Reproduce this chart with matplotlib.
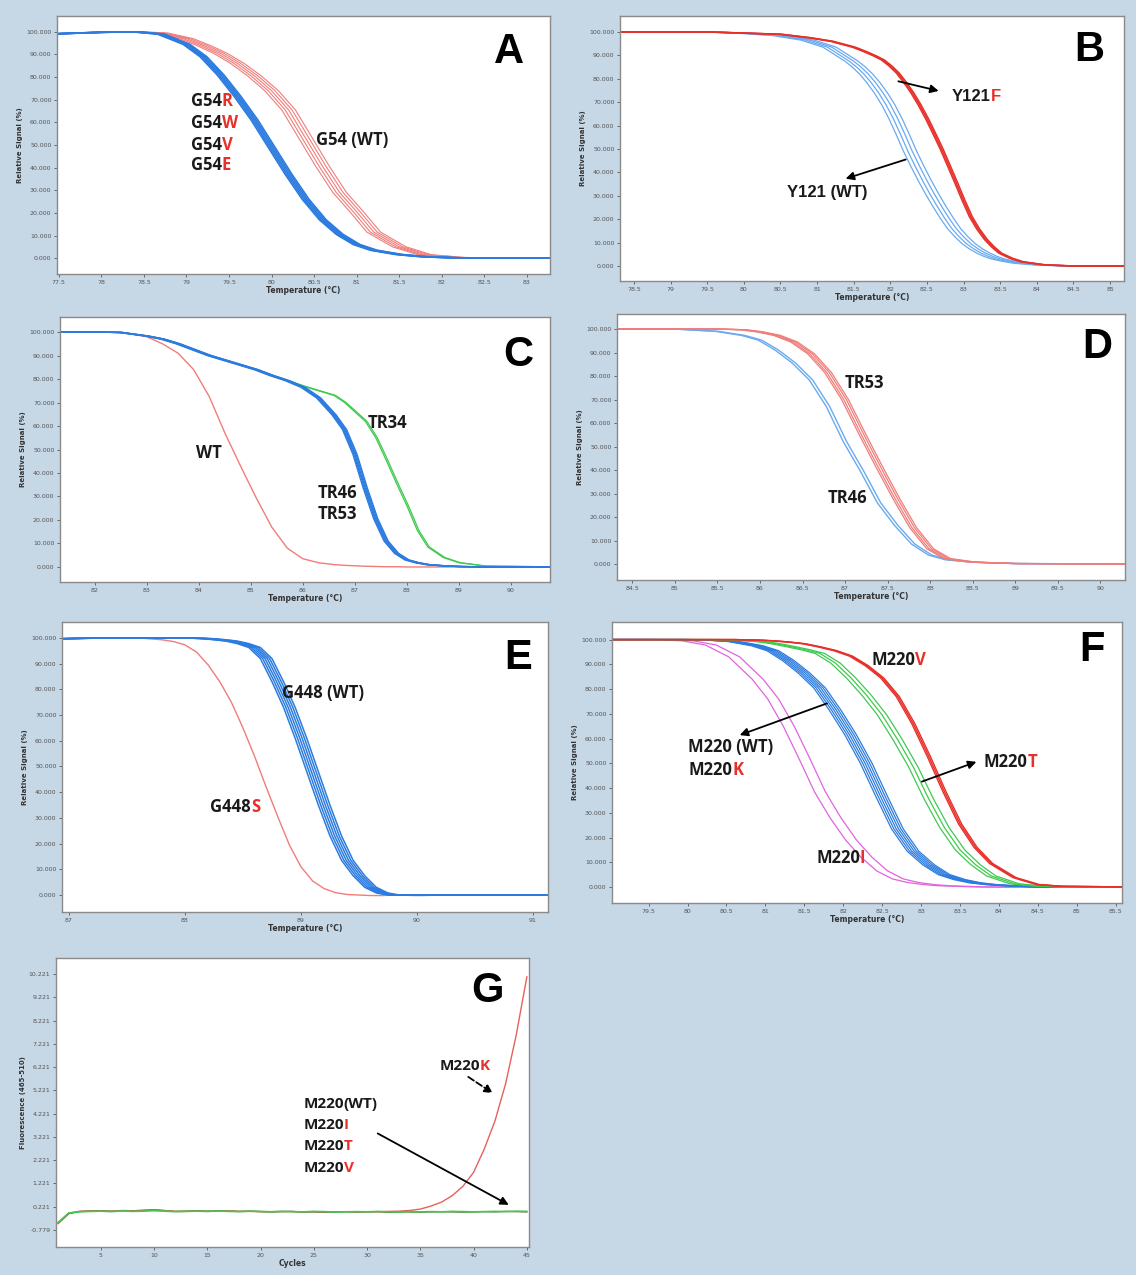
import matplotlib.pyplot as plt
import numpy as np

# ---- panel A : G54 ----
a_temp = [77.2, 78.0, 78.4, 78.7, 79.0, 79.2, 79.4, 79.6, 79.8, 80.0, 80.2, 80.4, 80.6, 80.8,
          81.0, 81.2, 81.5, 81.8, 82.2, 82.6, 83.6]
a_mut = [98.8, 99.8, 100, 99, 94.5, 89, 81, 71.5, 61, 49, 37, 26, 17, 10.5, 6, 3.5, 1.6, 0.6, 0.1, 0, 0]
a_wt = [98.8, 99.8, 100, 99.5, 97, 94, 90.5, 86, 80.5, 74, 65.5, 53, 40.5, 29, 20.5, 11.5, 5, 1.5, 0.3, 0, 0]

# ---- panel B : Y121 ----
b_temp = [78.0, 79.5, 80.0, 80.5, 80.9, 81.2, 81.5, 81.6, 81.7, 81.8, 81.9, 82.0, 82.1, 82.2, 82.3,
          82.4, 82.5, 82.6, 82.7, 82.8, 82.9, 83.0, 83.1, 83.2, 83.3, 83.4, 83.5, 83.65, 83.8, 84.1,
          84.5, 85.5]
b_wt = [100, 100, 99.5, 98.5, 96.5, 93.5, 87.5, 85, 82, 78.3, 74, 69, 63, 56.2, 49, 42.6, 36.5,
        30.8, 25.5, 20.5, 16, 12.5, 9.5, 7.3, 5.5, 4.1, 3, 2, 1.2, 0.4, 0, 0]
b_mut = [100, 100, 99.5, 99, 97.5, 96, 93.5, 92.3, 91, 89.6, 88, 85.5, 82.5, 78.5, 74, 68.8, 63,
         56.6, 50, 42.8, 35.5, 28, 21, 15.8, 11.5, 8.2, 5.5, 3.3, 1.8, 0.5, 0, 0]

# ---- panel C : TR34 / TR46 / TR53 ----
c_temp = [81.0, 82.0, 82.5, 83.0, 83.3, 83.6, 83.9, 84.2, 84.5, 84.8, 85.1, 85.4, 85.7, 86.0, 86.3,
          86.6, 86.8, 87.0, 87.2, 87.4, 87.6, 87.8, 88.0, 88.2, 88.4, 88.7, 89.0, 89.5, 91.0]
c_wt = [100, 100, 100, 98, 95, 91, 84, 72.5, 57, 43, 29.5, 17, 8, 3.5, 1.8, 1, 0.7, 0.5, 0.3, 0.2,
        0.1, 0.1, 0, 0, 0, 0, 0, 0, 0]
c_tr46 = [100, 100, 99.8, 98.3, 97, 95, 92.5, 90, 88, 86, 84, 81.5, 79.3, 76.5, 72, 64.7, 58.5, 48,
          33.5, 20.5, 11, 5.8, 3, 1.8, 1, 0.5, 0.2, 0, 0]
c_tr34 = [100, 100, 99.8, 98.3, 97, 95, 92.5, 90, 88, 86, 84, 81.5, 79.3, 77, 75, 73, 70, 66, 62,
          55, 45.5, 35.5, 26, 15.5, 8.5, 4, 1.8, 0.4, 0]

# ---- panel D : TR46 / TR53 ----
d_temp = [84.0, 85.0, 85.5, 85.8, 86.0, 86.2, 86.4, 86.6, 86.8, 87.0, 87.2, 87.4, 87.6, 87.8,
          88.0, 88.2, 88.5, 89.0, 90.5]
d_tr46 = [100, 100, 99, 97.3, 95.3, 91, 85.5, 78.3, 67, 52, 39.5, 26, 16.5, 8.5, 3.8, 1.8, 0.8, 0.2, 0]
d_tr53 = [100, 100, 100, 99.7, 98.8, 97.3, 94.5, 89.5, 81.5, 70, 55.5, 41.5, 28, 15.5, 6.5, 2.3, 0.8, 0.2, 0]

# ---- panel E : G448 ----
e_temp = [86.7, 87.3, 87.6, 87.8, 87.9, 88.0, 88.1, 88.2, 88.3, 88.4, 88.5, 88.6, 88.7, 88.8, 88.9,
          89.0, 89.1, 89.2, 89.3, 89.4, 89.5, 89.6, 89.7, 89.8, 90.0, 90.5, 91.3]
e_mut = [99.5, 100, 100, 99.3, 98.6, 97.3, 94.5, 89.5, 83, 75, 65, 54, 42, 30.5, 19.5, 11, 5.5, 2.5,
         0.9, 0.2, 0, -0.2, -0.2, 0, 0, 0, 0]
e_wt = [99.5, 100, 100, 100, 100, 100, 99.9, 99.7, 99.3, 98.8, 97.8, 96.3, 92, 83, 73, 61, 48, 35,
        23, 13.5, 7.5, 3, 0.8, 0, -0.1, 0, 0]

# ---- panel F : M220 ----
f_temp = [78.8, 79.6, 80.0, 80.3, 80.6, 80.9, 81.1, 81.3, 81.5, 81.7, 81.9, 82.1, 82.3, 82.5, 82.7,
          82.9, 83.1, 83.3, 83.5, 83.7, 83.9, 84.2, 84.5, 84.8, 85.8]
f_i = [100, 100, 99.5, 97.8, 93, 84, 76, 65, 52, 38.5, 28, 19, 12, 6.5, 3.3, 1.8, 1, 0.5, 0.3, 0.1,
       0, 0, 0, 0, 0]
f_wt = [100, 100, 100, 99.8, 99.2, 97.5, 95.5, 91.5, 86.5, 80.5, 71.5, 61.5, 50, 36.5, 23.5, 14.5,
        9, 5, 3, 1.7, 1, 0.4, 0.1, 0, 0]
f_t = [100, 100, 100, 100, 99.8, 99.3, 98.5, 97.3, 96, 94.4, 90.5, 84.5, 77.5, 69.5, 59.5, 48.5,
       35.5, 24, 15, 9, 4.5, 1.3, 0.4, 0.1, 0]
f_v = [100, 100, 100, 100, 100, 99.8, 99.5, 99, 98.3, 97, 95.5, 93.3, 89.5, 84.5, 77, 66, 52.7,
       38.5, 25.5, 16, 9.5, 3.8, 1.0, 0.3, 0]

# ---- panel G : amplification ----
g_cycles = list(range(1, 46))
g_green = [-0.45, -0.05, 0.0, 0.02, 0.03, 0.01, 0.04, 0.02, 0.03, 0.05, 0.03, 0.01, 0.02, 0.03,
           0.02, 0.04, 0.02, 0.01, 0.03, 0.02, 0.0, 0.02, 0.01, 0.0, 0.02, 0.01, -0.01, 0.0, 0.01,
           0.0, 0.02, 0.0, -0.01, 0.01, 0.0, 0.01, 0.0, 0.02, 0.01, 0.0, 0.01, 0.02, 0.01, 0.03, 0.02]
g_dark = [-0.5, -0.08, 0.02, 0.04, 0.05, 0.03, 0.06, 0.05, 0.07, 0.09, 0.06, 0.02, 0.03, 0.05,
          0.03, 0.05, 0.04, 0.02, 0.03, 0.01, 0.0, 0.01, 0.02, -0.01, 0.0, -0.02, 0.0, 0.01, -0.01,
          0.0, 0.01, -0.02, 0.0, 0.0, -0.01, 0.0, 0.01, 0.0, -0.01, 0.0, 0.01, 0.0, 0.02, 0.01, 0.0]
g_k = [-0.5, -0.05, 0.02, 0.03, 0.04, 0.02, 0.05, 0.04, 0.06, 0.08, 0.05, 0.02, 0.02, 0.04, 0.02,
       0.03, 0.03, 0.02, 0.02, 0.01, 0.01, 0.02, 0.01, 0.0, 0.01, 0.0, 0.0, 0.01, 0.0, 0.01, 0.0,
       0.02, 0.03, 0.06, 0.12, 0.25, 0.42, 0.7, 1.1, 1.7, 2.7, 3.9, 5.5, 7.6, 10.1]

BG = '#c6d7e6'
RED = '#e8302a'
LRED = '#f07d7a'
BLUE = '#2c7ce0'
LBLUE = '#6aaaf0'
GREEN = '#3fc94f'
MAG = '#e064e0'
LBL = 'Open Sans'

fig = plt.figure(figsize=(11.36, 12.75), dpi=100, facecolor=BG)


def px_axes(l, t, r, b):
    return fig.add_axes([l / 1136, 1 - b / 1275, (r - l) / 1136, (b - t) / 1275])


def style(ax, xlim, ylim, xticks, yticks, xlabel, ylabel):
    ax.set_xlim(xlim)
    ax.set_ylim(ylim)
    ax.set_xticks(xticks)
    ax.set_xticklabels(['{:g}'.format(t) for t in xticks])
    ax.set_yticks(yticks)
    ax.set_yticklabels(['{:.3f}'.format(t) for t in yticks])
    ax.tick_params(labelsize=4.5, colors='#555555', length=2, width=0.6, pad=2)
    ax.set_xlabel(xlabel, fontsize=5.5, fontweight='bold', color='#333333', labelpad=1)
    ax.set_ylabel(ylabel, fontsize=5, fontweight='bold', color='#333333', labelpad=2)
    for s in ax.spines.values():
        s.set_color('#8a8a8a')
        s.set_linewidth(1.0)


def band(ax, temp, vals, offsets, color, lw):
    for off in offsets:
        ax.plot(np.array(temp) + off, vals, color=color, lw=lw)


def two_tone(ax, x, y, base, tail, size=12, family=LBL):
    t = ax.text(x, y, base, fontsize=size, fontweight='bold', va='center', ha='left', family=family,
                color='#1a1a1a')
    if tail:
        ax.annotate(tail, xy=(1, 0), xycoords=t, va='bottom', ha='left', color=RED,
                    fontsize=size, fontweight='bold', family=family)


def letter(ax, x, y, s):
    ax.text(x, y, s, fontsize=30, fontweight='bold', ha='center', va='center',
            family='Liberation Sans')


def arrow(ax, x0, y0, x1, y1, ls='-'):
    ax.annotate('', xy=(x1, y1), xytext=(x0, y0),
                arrowprops=dict(arrowstyle='-|>', color='black', lw=1.3, ls=ls,
                                mutation_scale=12, shrinkA=0, shrinkB=0))


sig_ticks = list(range(0, 101, 10))
XL = 'Temperature (°C)'
YL = 'Relative Signal (%)'

# A
ax = px_axes(57, 16, 550, 274)
band(ax, a_temp, a_wt, [-0.08, -0.04, 0, 0.04, 0.08], LRED, 0.8)
band(ax, a_temp, a_mut, [-0.04, -0.02, 0, 0.02, 0.04], BLUE, 1.2)
style(ax, (77.48, 83.27), (-7, 107), [77.5 + 0.5 * i for i in range(12)], sig_ticks, XL, YL)
for i, s in enumerate(['R', 'W', 'V', 'E']):
    two_tone(ax, 79.05, [69.3, 59.5, 49.9, 41.1][i], 'G54', s)
two_tone(ax, 80.52, 52.1, 'G54 (WT)', '')
letter(ax, 82.79, 91, 'A')

# B
ax = px_axes(620, 16, 1124, 281)
band(ax, b_temp, b_wt, [-0.12, -0.06, 0, 0.06], LBLUE, 0.9)
band(ax, b_temp, b_mut, [-0.02, 0, 0.02], RED, 1.1)
style(ax, (78.31, 85.19), (-6.4, 106.8), [78.5 + 0.5 * i for i in range(14)], sig_ticks, XL, YL)
two_tone(ax, 82.84, 72.5, 'Y121', 'F', family='Liberation Sans')
two_tone(ax, 80.59, 31.2, 'Y121 (WT)', '', family='Liberation Sans')
arrow(ax, 82.11, 78.9, 82.66, 74.8)
arrow(ax, 82.21, 45.5, 81.39, 37.3)
letter(ax, 84.72, 92.2, 'B')

# C
ax = px_axes(60, 317, 550, 582)
band(ax, c_temp, c_wt, [0], LRED, 1.0)
band(ax, c_temp, c_tr34, [0, 0.03], GREEN, 0.9)
band(ax, c_temp, c_tr46, [-0.04, -0.02, 0, 0.02, 0.04], BLUE, 1.0)
style(ax, (81.33, 90.75), (-6.4, 106.4), list(range(82, 91)), sig_ticks, XL, YL)
two_tone(ax, 83.95, 48.6, 'WT', '')
two_tone(ax, 87.25, 61.1, 'TR34', '')
two_tone(ax, 86.29, 31.4, 'TR46', '')
two_tone(ax, 86.29, 22.4, 'TR53', '')
letter(ax, 90.14, 90.2, 'C')

# D
ax = px_axes(617, 314, 1125, 580)
band(ax, d_temp, d_tr46, [-0.02, 0.02], LBLUE, 1.0)
band(ax, d_temp, d_tr53, [-0.04, -0.015, 0.015, 0.04], LRED, 0.9)
style(ax, (84.32, 90.29), (-6.8, 106.4), [84.5 + 0.5 * i for i in range(12)], sig_ticks, XL, YL)
two_tone(ax, 87.0, 76.9, 'TR53', '')
two_tone(ax, 86.79, 28.2, 'TR46', '')
letter(ax, 89.96, 92.5, 'D')

# E
ax = px_axes(62, 622, 548, 912)
band(ax, e_temp, e_mut, [0], LRED, 1.0)
band(ax, e_temp, e_wt, [-0.05, -0.03, -0.01, 0.01, 0.03, 0.05], BLUE, 1.1)
style(ax, (86.94, 91.13), (-6.6, 106.2), list(range(87, 92)), sig_ticks, XL, YL)
two_tone(ax, 88.84, 78.7, 'G448 (WT)', '')
two_tone(ax, 88.22, 34.4, 'G448', 'S')
letter(ax, 90.87, 92.1, 'E')

# F
ax = px_axes(612, 622, 1122, 903)
band(ax, f_temp, f_i, [-0.07, 0.07], MAG, 0.9)
band(ax, f_temp, f_wt, [-0.08, -0.05, -0.02, 0.01, 0.04, 0.07], BLUE, 0.9)
band(ax, f_temp, f_t, [-0.06, 0, 0.06], GREEN, 0.9)
band(ax, f_temp, f_v, [-0.02, 0, 0.02], RED, 1.0)
style(ax, (79.03, 85.58), (-6.45, 107.1), [79.5 + 0.5 * i for i in range(13)], sig_ticks, XL, YL)
two_tone(ax, 80.01, 56.7, 'M220 (WT)', '')
two_tone(ax, 80.01, 47.3, 'M220', 'K')
two_tone(ax, 83.8, 50.6, 'M220', 'T')
two_tone(ax, 82.36, 91.6, 'M220', 'V')
two_tone(ax, 81.65, 11.8, 'M220', 'I')
arrow(ax, 81.79, 74.2, 80.67, 61.4)
arrow(ax, 83.01, 42.6, 83.71, 50.6)
letter(ax, 85.19, 95.7, 'F')

# G
ax = px_axes(56, 958, 529, 1247)
ax.plot(g_cycles, g_dark, color='#5a4a2a', lw=0.9)
ax.plot(g_cycles, g_k, color='#e8605a', lw=1.0)
ax.plot(g_cycles, g_green, color=GREEN, lw=1.2)
style(ax, (0.8, 45.2), (-1.51, 10.91), list(range(5, 46, 5)),
      [-0.779 + k for k in range(12)], 'Cycles', 'Fluorescence (465-510)')
two_tone(ax, 36.8, 6.26, 'M220', 'K', size=11)
for i, s in enumerate(['(WT)', 'I', 'T', 'V']):
    t = ax.text(24.0, [4.63, 3.73, 2.83, 1.9][i], 'M220', fontsize=11, fontweight='bold',
                va='center', ha='left', family=LBL, color='#1a1a1a')
    ax.annotate(s, xy=(1, 0), xycoords=t, va='bottom', ha='left', fontsize=11, fontweight='bold',
                family=LBL, color='#1a1a1a' if s == '(WT)' else RED)
arrow(ax, 39.5, 5.8, 41.8, 5.1, ls='--')
arrow(ax, 31.0, 3.37, 43.3, 0.3)
letter(ax, 41.3, 9.5, 'G')

fig.savefig('out.png', dpi=100, facecolor=BG)
